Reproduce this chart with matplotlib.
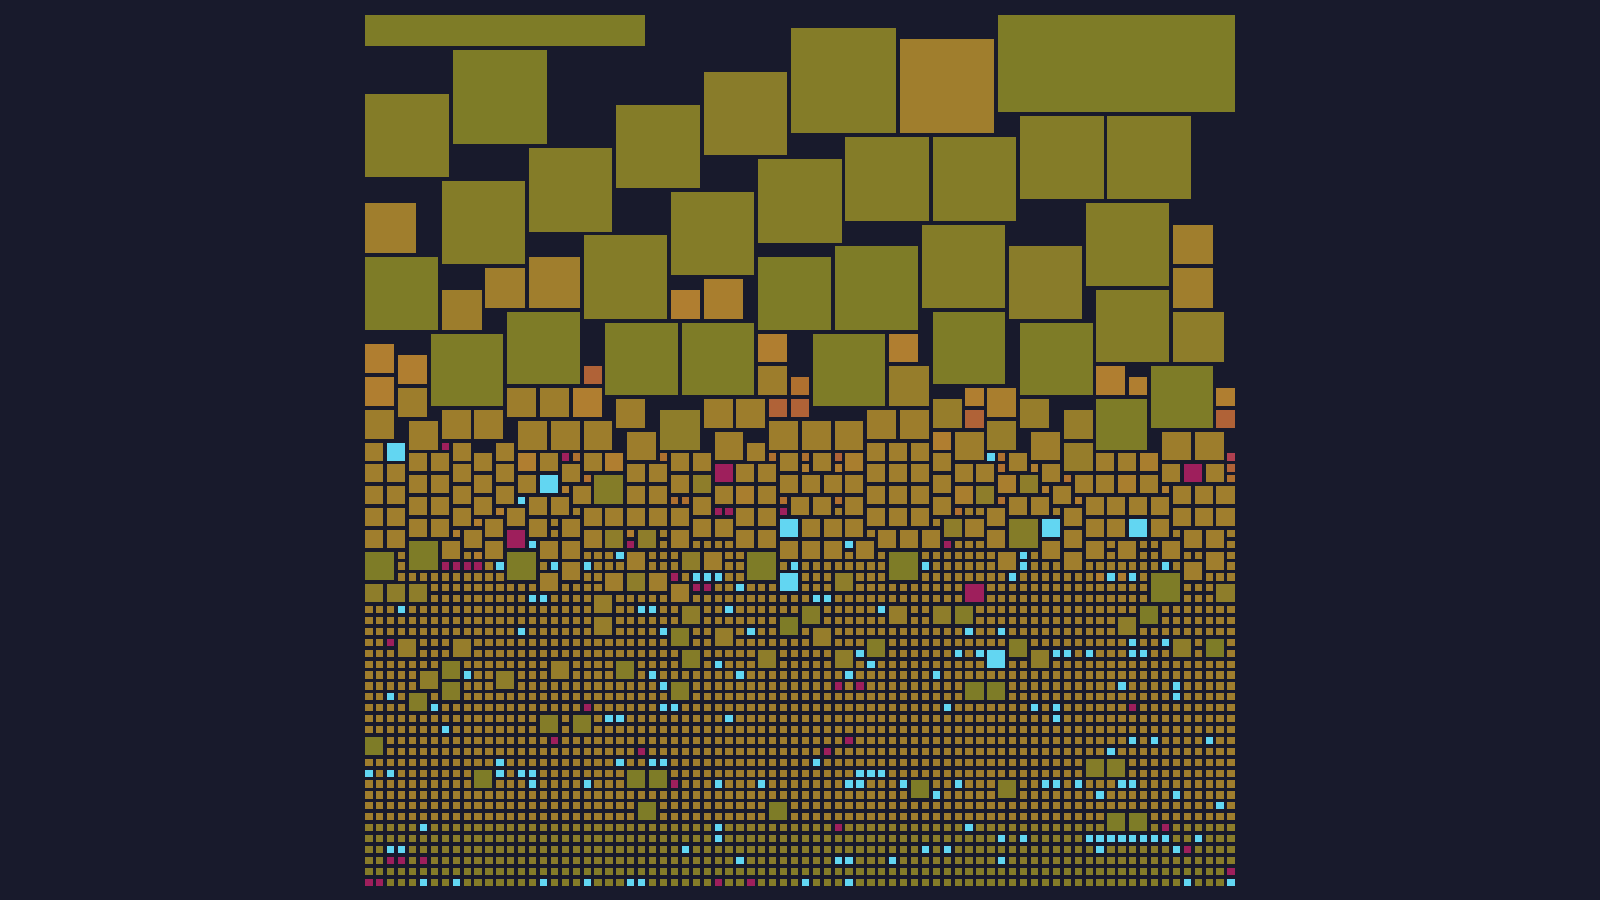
import numpy as np
import matplotlib
matplotlib.use("Agg")
import matplotlib.pyplot as plt
from matplotlib.patches import Rectangle

BG = "#181A2C"
GRID = 80
PITCH_X = 10.9125
PITCH_Y = 10.9
X0 = 365.3
Y0 = 17.4

tones = {
    "o1": "#7E7C27", "o2": "#847C28", "o3": "#897C2A", "o4": "#8E7D2A",
    "o5": "#967D2B", "o6": "#9D7D2C", "o7": "#A07E2D", "o8": "#A97E2E",
    "o9": "#B07E30", "r1": "#B0702F", "r2": "#B06237", "r3": "#B04050",
    "m": "#9E1F5C", "c": "#62D6F2",
}

# wide blocks: column, row, columns wide, rows tall
wide_blocks = [(0, -0.22, 26, 3.2, "o1"), (58, -0.22, 22, 9.25, "o1")]

o1_blocks = [(8,3,9),(0,22,7),(36,22,7),(43,21,8),(13,27,7),(22,28,7),(29,28,7),(6,29,7),(41,29,7),
             (52,27,7),(60,28,7),(72,32,6),(67,35,5),(4,48,3),(0,49,3),(13,49,3),(35,49,3),(48,49,3),
             (72,51,3),(38,55,2),(71,54,2),(77,57,2),(55,61,2),(57,61,2),(0,66,2),(10,69,2),(24,69,2),
             (26,69,2),(25,72,2),(37,72,2),(50,70,2),(68,73,2),(70,73,2)]
o2_blocks = [(0,7,8),(23,8,8),(15,12,8),(7,15,8),(28,16,8),(36,13,8),(39,1,10),(60,9,8),(68,9,8),
             (44,11,8),(52,11,8),(66,17,8),(51,19,8),(20,20,8),(67,25,7),(21,42,3),(59,46,3),(28,56,2),
             (7,59,2),(23,59,2),(7,61,2),(28,61,2),(4,62,2),(16,64,2),(19,64,2),(40,54,2),(54,54,2),
             (46,57,2),(59,57,2),(66,68,2),(68,68,2),(58,70,2),(29,58,2)]
o3_blocks = [(31,5,8),(59,21,7)]
o4_blocks = [(27,36,4),(74,27,5),(30,42,2),(22,47,2),(24,51,2),(25,47,2),(29,49,2),(29,54,2),(36,58,2),
             (5,60,2),(12,60,2),(52,54,2),(69,55,2),(74,57,2),(43,58,2),(61,58,2),(60,42,2),(56,43,2),
             (53,46,2),(43,51,2),(78,52,2),(0,52,2),(2,52,2),(4,52,2)]
o5_blocks = [(48,32,4),(52,35,3),(57,37,3),(60,35,3),(64,36,3),(64,39,3),(32,56,2),(17,59,2),(48,54,2),
             (41,56,2),(21,53,2),(21,55,2),(3,57,2),(8,57,2)]
o6_blocks = [(7,25,4),(0,36,3),(3,34,3),(4,37,3),(7,36,3),(10,36,3),(13,34,3),(16,34,3),(14,37,3),(17,37,3),
             (20,37,3),(23,35,3),(24,38,3),(31,35,3),(34,35,3),(32,38,3),(37,37,3),(40,37,3),(43,37,3),
             (46,36,3),(49,36,3),(54,38,3),(61,38,3),(73,38,3),(76,38,3),(36,32,3)]
o7_blocks = [(11,23,4),(15,22,5),(0,17,5),(49,2,9),(74,19,4),(74,23,4),
             (0,39,2),(8,39,2),(12,39,2),(35,39,2),(46,39,2),(48,39,2),(50,39,2),
             (4,40,2),(6,40,2),(10,40,2),(16,40,2),(20,40,2),(28,40,2),(30,40,2),(38,40,2),(41,40,2),(52,40,2),(59,40,2),(67,40,2),(69,40,2),
             (0,41,2),(2,41,2),(8,41,2),(12,41,2),(18,41,2),(24,41,2),(26,41,2),(34,41,2),(36,41,2),(46,41,2),(48,41,2),(50,41,2),(54,41,2),(56,41,2),(62,41,2),(73,41,2),(77,41,2),
             (4,42,2),(6,42,2),(10,42,2),(14,42,2),(28,42,2),(38,42,2),(40,42,2),(42,42,2),(44,42,2),(52,42,2),(65,42,2),(67,42,2),(71,42,2),
             (0,43,2),(2,43,2),(8,43,2),(12,43,2),(19,43,2),(24,43,2),(26,43,2),(32,43,2),(36,43,2),(46,43,2),(48,43,2),(50,43,2),(63,43,2),(74,43,2),(76,43,2),(78,43,2),
             (4,44,2),(6,44,2),(10,44,2),(15,44,2),(17,44,2),(30,44,2),(39,44,2),(41,44,2),(44,44,2),(52,44,2),(59,44,2),(61,44,2),(66,44,2),(68,44,2),(70,44,2),(72,44,2),
             (0,45,2),(2,45,2),(8,45,2),(13,45,2),(20,45,2),(22,45,2),(24,45,2),(26,45,2),(28,45,2),(34,45,2),(36,45,2),(46,45,2),(48,45,2),(50,45,2),(57,45,2),(64,45,2),(74,45,2),(76,45,2),(78,45,2),
             (4,46,2),(6,46,2),(11,46,2),(15,46,2),(18,46,2),(30,46,2),(32,46,2),(40,46,2),(42,46,2),(44,46,2),(55,46,2),(66,46,2),(68,46,2),(72,46,2),
             (0,47,2),(2,47,2),(9,47,2),(20,47,2),(28,47,2),(34,47,2),(36,47,2),(47,47,2),(49,47,2),(51,47,2),(57,47,2),(64,47,2),(75,47,2),(77,47,2),
             (7,48,2),(11,48,2),(16,48,2),(18,48,2),(38,48,2),(40,48,2),(42,48,2),(45,48,2),(62,48,2),(66,48,2),(69,48,2),(73,48,2),
             (24,49,2),(31,49,2),(58,49,2),(64,49,2),(77,49,2),(18,50,2),(75,50,2),(16,51,2),(22,51,2),(26,51,2),(28,52,2)]
o8_blocks = [(31,24,4),(57,34,3),(44,40,2),(71,40,2),(34,43,2),(58,42,2),(69,42,2),(54,43,2)]
o9_blocks = [(28,25,3),(36,29,3),(48,29,3),(3,31,3),(0,30,3),(0,33,3),(14,40,2),(22,40,2),(67,32,3),
             (70,33,2),(55,34,2),(78,34,2),(52,38,2),(19,34,3)]
r1_blocks = [(39,33,2)]
r2_blocks = [(20,32,2),(37,35,2),(39,35,2),(55,36,2),(78,36,2)]
cyan_blocks = [(2,39,2),(16,42,2),(38,46,2),(38,51,2),(62,46,2),(70,46,2),(57,58,2)]
magenta_blocks = [(32,41,2),(13,47,2),(75,41,2),(55,52,2)]

cyan_cells = [(14,44),(15,48),(23,49),(12,50),(17,50),(20,50),(30,51),(31,51),(32,51),(34,52),(39,50),(57,40),
              (44,48),(60,49),(51,50),(60,50),(73,50),(59,51),(68,51),(70,51),(15,53),(16,53),(41,53),(42,53),
              (3,54),(25,54),(26,54),(33,54),(47,54),(14,56),(27,56),(35,56),(55,56),(58,56),(70,57),(73,57),
              (45,58),(54,58),(56,58),(63,58),(64,58),(66,58),(70,58),(71,58),(32,59),(46,59),
              (9,60),(26,60),(34,60),(44,60),(52,60),(27,61),(69,61),(74,61),(2,62),(74,62),
              (6,63),(27,63),(28,63),(53,63),(61,63),(63,63),(22,64),(23,64),(33,64),(63,64),(7,65),
              (70,66),(72,66),(77,66),(68,67),(12,68),(23,68),(26,68),(27,68),(41,68),
              (0,69),(2,69),(12,69),(14,69),(15,69),(45,69),(46,69),(47,69),
              (15,70),(20,70),(32,70),(36,70),(44,70),(45,70),(49,70),(54,70),(62,70),(63,70),(65,70),(69,70),(70,70),
              (52,71),(67,71),(74,71),(78,72),(5,74),(32,74),(55,74),(32,75),(58,75),(60,75),
              (66,75),(67,75),(68,75),(69,75),(70,75),(71,75),(72,75),(73,75),(76,75),
              (2,76),(3,76),(29,76),(51,76),(53,76),(67,76),(74,76),(34,77),(43,77),(44,77),(48,77),(58,77),
              (5,79),(8,79),(16,79),(20,79),(24,79),(25,79),(40,79),(44,79),(75,79),(79,79)]
magenta_cells = [(7,39),(18,40),(32,45),(33,45),(38,45),(24,48),(7,50),(8,50),(9,50),(10,50),(28,51),(30,52),(31,52),
                 (53,48),(2,57),(43,61),(45,61),(20,63),(70,63),(17,66),(44,66),(25,67),(42,67),(28,70),
                 (43,74),(73,74),(75,76),(2,77),(3,77),(5,77),(79,78),(0,79),(1,79),(32,79),(35,79)]
red_cells = [(19,40),(27,40),(37,40),(40,40),(58,40),(20,42),(28,44),(29,44),(38,44),(58,41),(64,42),(43,44),(58,44),(54,45),(79,42)]
rust_cells = [(43,40),(79,41)]
crimson_cells = [(79,40)]
orange_cells = [(18,43),(12,45),(8,47),(24,47),(10,46),(10,49),(40,41),(61,41),(43,41),(62,43),(73,43),(65,44),(67,51),(69,51)]

# tone of the plain one-cell squares, by row, from row 40 to row 79
plain_row_tones = ["o7"] * 34 + ["o4", "o3", "o3", "o3", "o2", "o2"]


def gap_for(span):
    if span <= 1.5:
        return 3.65
    return 3.8


def cell_rect(col, row, w, h, color):
    rect = Rectangle((col, row), w - gap_for(w) / PITCH_X, h - gap_for(h) / PITCH_Y, facecolor=color,
                     edgecolor="none", linewidth=0, antialiased=False)
    rect.set_clip_on(False)
    return rect


fig = plt.figure(figsize=(16, 9), dpi=100, facecolor=BG)
ax = fig.add_axes([X0 / 1600, 1 - (Y0 + GRID * PITCH_Y) / 900, GRID * PITCH_X / 1600, GRID * PITCH_Y / 900])
ax.set_xlim(0, GRID)
ax.set_ylim(GRID, 0)
ax.axis("off")

taken = np.zeros((GRID, GRID), dtype=bool)


def add_square(col, row, size, tone):
    ax.add_patch(cell_rect(col, row, size, size, tones[tone]))
    taken[row:row + size, col:col + size] = True


for col, row, w, h, tone in wide_blocks:
    ax.add_patch(cell_rect(col, row, w, h, tones[tone]))
    taken[0:int(round(h)), col:col + w] = True

for blocks, tone in [(o1_blocks, "o1"), (o2_blocks, "o2"), (o3_blocks, "o3"), (o4_blocks, "o4"),
                     (o5_blocks, "o5"), (o6_blocks, "o6"), (o7_blocks, "o7"), (o8_blocks, "o8"),
                     (o9_blocks, "o9"), (r1_blocks, "r1"), (r2_blocks, "r2"),
                     (cyan_blocks, "c"), (magenta_blocks, "m")]:
    for col, row, size in blocks:
        add_square(col, row, size, tone)

for cells, tone in [(cyan_cells, "c"), (magenta_cells, "m"), (red_cells, "r1"), (rust_cells, "r2"),
                    (crimson_cells, "r3"), (orange_cells, "o9")]:
    for col, row in cells:
        add_square(col, row, 1, tone)

for i, tone in enumerate(plain_row_tones):
    row = 40 + i
    for col in range(GRID):
        if not taken[row, col]:
            add_square(col, row, 1, tone)

fig.savefig("out.png", dpi=100, facecolor=BG)
